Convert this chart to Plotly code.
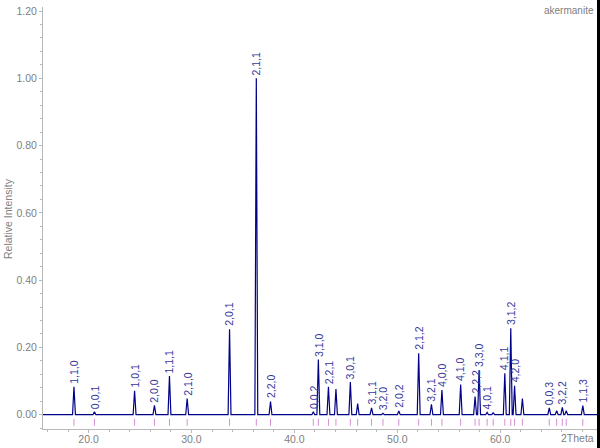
import plotly.graph_objects as go

# Peak positions (2Theta), relative intensities and hkl labels
peak_pos = [18.58, 20.57, 24.47, 26.40, 27.86, 29.58, 33.70, 36.30, 37.68,
            41.84, 42.33, 43.31, 44.04, 45.44, 46.15, 47.50, 48.61, 50.15,
            52.08, 53.32, 54.34, 56.16, 57.56, 57.95, 58.73, 59.32, 60.45,
            61.03, 61.40, 62.16, 64.77, 65.49, 66.04, 66.42, 68.03]
peak_int = [0.083, 0.009, 0.071, 0.028, 0.115, 0.048, 0.254, 1.000, 0.039,
            0.009, 0.164, 0.083, 0.076, 0.097, 0.033, 0.020, 0.004, 0.011,
            0.183, 0.031, 0.073, 0.090, 0.054, 0.133, 0.007, 0.006, 0.123,
            0.257, 0.086, 0.048, 0.020, 0.012, 0.022, 0.012, 0.027]
peak_lbl = ["1,1,0", "0,0,1", "1,0,1", "2,0,0", "1,1,1", "2,1,0", "2,0,1", "2,1,1", "2,2,0",
            "0,0,2", "3,1,0", "2,2,1", "", "3,0,1", "", "3,1,1", "3,2,0", "2,0,2",
            "2,1,2", "3,2,1", "4,0,0", "4,1,0", "2,2,2", "3,3,0", "4,0,1", "", "4,1,1",
            "3,1,2", "4,2,0", "", "0,0,3", "", "3,2,2", "", "1,1,3"]

x_ticks = [20, 30, 40, 50, 60]
x_tick_text = ["20.0", "30.0", "40.0", "50.0", "60.0"]
y_ticks = [0.0, 0.2, 0.4, 0.6, 0.8, 1.0, 1.2]
y_tick_text = ["0.00", "0.20", "0.40", "0.60", "0.80", "1.00", "1.20"]

X_RANGE = [15.57, 69.41]
Y_RANGE = [-0.0425, 1.212]
HALF_W = 0.14

# build profile line from peaks
px, py = [X_RANGE[0]], [0.0]
for p, h in zip(peak_pos, peak_int):
    px += [p - HALF_W, p, p + HALF_W]
    py += [0.0, h, 0.0]
px.append(X_RANGE[1])
py.append(0.0)

# reference tick marks
tx, ty = [], []
for p in peak_pos:
    tx += [p, p, None]
    ty += [-0.0125, -0.033, None]

FONT = "Liberation Sans, Arial"
fig = go.Figure()
fig.add_trace(go.Scatter(x=tx, y=ty, mode="lines",
                         line=dict(color="#d690d6", width=1), hoverinfo="skip"))
fig.add_trace(go.Scatter(x=px, y=py, mode="lines",
                         line=dict(color="#000088", width=1.2), hoverinfo="skip"))

for p, h, t in zip(peak_pos, peak_int, peak_lbl):
    if t:
        fig.add_annotation(x=p, y=h, text=t, textangle=-90, showarrow=False,
                           xanchor="center", yanchor="bottom", yshift=1,
                           font=dict(family=FONT, size=10.5, color="#36369a"))

fig.add_annotation(xref="paper", yref="paper", x=(8 - 43) / 554, y=(429 - 219) / 422,
                   text="Relative Intensity", textangle=-90, showarrow=False,
                   xanchor="center", yanchor="middle",
                   font=dict(family=FONT, size=10.5, color="#808080"))
fig.add_annotation(xref="paper", yref="paper", x=(596 - 43) / 554, y=(429 - 10) / 422,
                   text="akermanite", showarrow=False, xanchor="right", yanchor="middle",
                   font=dict(family=FONT, size=10, color="#808080"))
fig.add_annotation(xref="paper", yref="paper", x=(596 - 43) / 554, y=(429 - 438) / 422,
                   text="2Theta", showarrow=False, xanchor="right", yanchor="middle",
                   font=dict(family=FONT, size=10.5, color="#808080"))

fig.add_shape(type="rect", xref="paper", yref="paper", x0=1.0, x1=1.02, y0=-0.1, y1=1.1,
              fillcolor="black", line=dict(width=0), layer="above")

fig.update_layout(
    width=600, height=448,
    margin=dict(l=43, r=3, t=7, b=19),
    paper_bgcolor="white", plot_bgcolor="white",
    showlegend=False,
    xaxis=dict(range=X_RANGE, showgrid=False, zeroline=False, automargin=False,
               showline=True, linecolor="#b8b8b8", linewidth=1,
               tickvals=x_ticks, ticktext=x_tick_text, ticks="outside", ticklen=3,
               tickcolor="#b8b8b8", ticklabelstandoff=-3,
               minor=dict(dtick=2, ticks="outside", ticklen=2, tickcolor="#b8b8b8"),
               tickfont=dict(family=FONT, size=10.5, color="#808080")),
    yaxis=dict(range=Y_RANGE, showgrid=False, zeroline=False, automargin=False,
               showline=True, linecolor="#b8b8b8", linewidth=1,
               tickvals=y_ticks, ticktext=y_tick_text, ticks="outside", ticklen=3,
               tickcolor="#b8b8b8",
               minor=dict(dtick=0.04, ticks="outside", ticklen=2, tickcolor="#b8b8b8"),
               tickfont=dict(family=FONT, size=10.5, color="#808080")),
)

fig.write_html("out.html", config={"displayModeBar": False},
               post_script="document.body.style.margin='0';document.body.style.overflow='hidden';")
